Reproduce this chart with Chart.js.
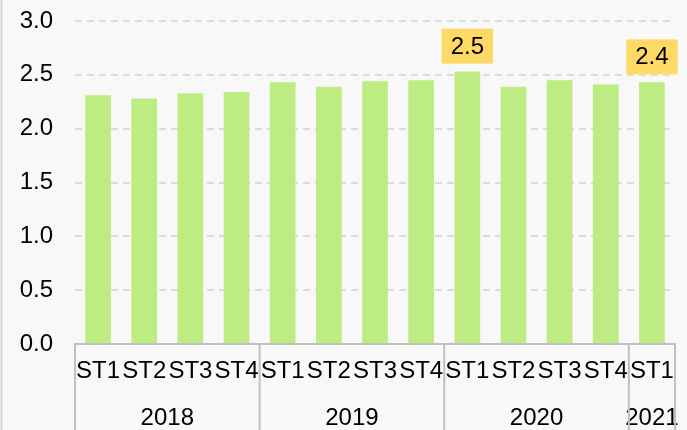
<!DOCTYPE html>
<html>
<head>
<meta charset="utf-8">
<script src="https://cdn.jsdelivr.net/npm/chart.js@4/dist/chart.umd.min.js"></script>
<style>
  html, body { margin: 0; padding: 0; background: #f8f8f8; }
  #wrap { width: 687px; height: 430px; position: relative; }
</style>
</head>
<body>
<div id="wrap"><canvas id="c" width="687" height="430"></canvas></div>
<script>
// ---- data ----
const categories = ['ST1','ST2','ST3','ST4','ST1','ST2','ST3','ST4','ST1','ST2','ST3','ST4','ST1'];
const years = ['2018','2019','2020','2021'];
const yearSizes = [4, 4, 4, 1];
const values = [2.31, 2.28, 2.33, 2.34, 2.43, 2.39, 2.44, 2.45, 2.53, 2.39, 2.45, 2.41, 2.43];
const labeledIndices = [8, 12];
const yTicks = [0, 0.5, 1.0, 1.5, 2.0, 2.5, 3.0];

const FONT = "'Liberation Sans', Arial, sans-serif";
const AXIS_GRAY = '#c0c0c0';

const bgPlugin = {
  id: 'bg',
  beforeDraw(chart) {
    const ctx = chart.ctx;
    ctx.save();
    ctx.fillStyle = '#f8f8f8';
    ctx.fillRect(0, 0, chart.width, chart.height);
    ctx.strokeStyle = '#d6d6d6';
    ctx.lineWidth = 2;
    ctx.beginPath();
    ctx.moveTo(1.5, 0);
    ctx.lineTo(1.5, chart.height);
    ctx.stroke();
    ctx.restore();
  }
};

const groupPlugin = {
  id: 'groups',
  afterDraw(chart) {
    const ctx = chart.ctx;
    const xs = chart.scales.x;
    const bottom = chart.chartArea.bottom;
    const step = xs.getPixelForValue(1) - xs.getPixelForValue(0);
    ctx.save();
    ctx.strokeStyle = AXIS_GRAY;
    ctx.lineWidth = 2;
    let start = 0;
    const bounds = [xs.getPixelForValue(0) - step / 2];
    years.forEach((yr, i) => {
      const end = start + yearSizes[i];
      const left = xs.getPixelForValue(start) - step / 2;
      const right = xs.getPixelForValue(end - 1) + step / 2;
      bounds.push(right);
      ctx.fillStyle = '#000';
      ctx.font = '24px ' + FONT;
      ctx.textAlign = 'center';
      ctx.textBaseline = 'middle';
      ctx.fillText(yr, (left + right) / 2, bottom + 74);
      start = end;
    });
    bounds.forEach(b => {
      ctx.beginPath();
      ctx.moveTo(b, bottom);
      ctx.lineTo(b, chart.height);
      ctx.stroke();
    });
    // data labels
    const meta = chart.getDatasetMeta(0);
    ctx.font = '24px ' + FONT;
    labeledIndices.forEach(i => {
      const bar = meta.data[i];
      const txt = values[i].toFixed(1);
      const w = ctx.measureText(txt).width + 18;
      const h = 35;
      const bx = bar.x - w / 2;
      const by = bar.y - 8 - h;
      ctx.fillStyle = '#ffd966';
      ctx.fillRect(bx, by, w, h);
      ctx.fillStyle = '#000';
      ctx.textAlign = 'center';
      ctx.textBaseline = 'middle';
      ctx.fillText(txt, bar.x, by + h / 2 + 1);
    });
    ctx.restore();
  }
};

new Chart(document.getElementById('c'), {
  type: 'bar',
  data: {
    labels: categories,
    datasets: [{
      data: values,
      backgroundColor: '#bdec82',
      borderWidth: 0,
      barPercentage: 0.557,
      categoryPercentage: 1.0
    }]
  },
  options: {
    responsive: false,
    animation: false,
    devicePixelRatio: 1,
    layout: { padding: { top: 21, right: 12, left: 0, bottom: 0 } },
    plugins: { legend: { display: false }, tooltip: { enabled: false } },
    scales: {
      x: {
        afterFit(scale) {
          scale.height = 86;
          scale.paddingLeft = 0; scale.paddingRight = 0;
        },
        grid: { display: false, drawTicks: false },
        border: { display: true, color: AXIS_GRAY, width: 2 },
        ticks: {
          autoSkip: false, maxRotation: 0, minRotation: 0,
          padding: 13, color: '#000',
          font: { size: 24, family: FONT }
        }
      },
      y: {
        min: 0, max: 3,
        afterFit(scale) {
          scale.width = 75;
          scale.paddingTop = 0; scale.paddingBottom = 0;
        },
        afterBuildTicks(scale) { scale.ticks = yTicks.map(v => ({ value: v })); },
        grid: { color: '#dcdcdc', lineWidth: 2, drawTicks: false },
        border: { display: false, dash: [7, 5] },
        ticks: {
          padding: 22, color: '#000',
          font: { size: 24, family: FONT },
          callback: v => Number(v).toFixed(1)
        }
      }
    }
  },
  plugins: [bgPlugin, groupPlugin]
});
</script>
</body>
</html>
